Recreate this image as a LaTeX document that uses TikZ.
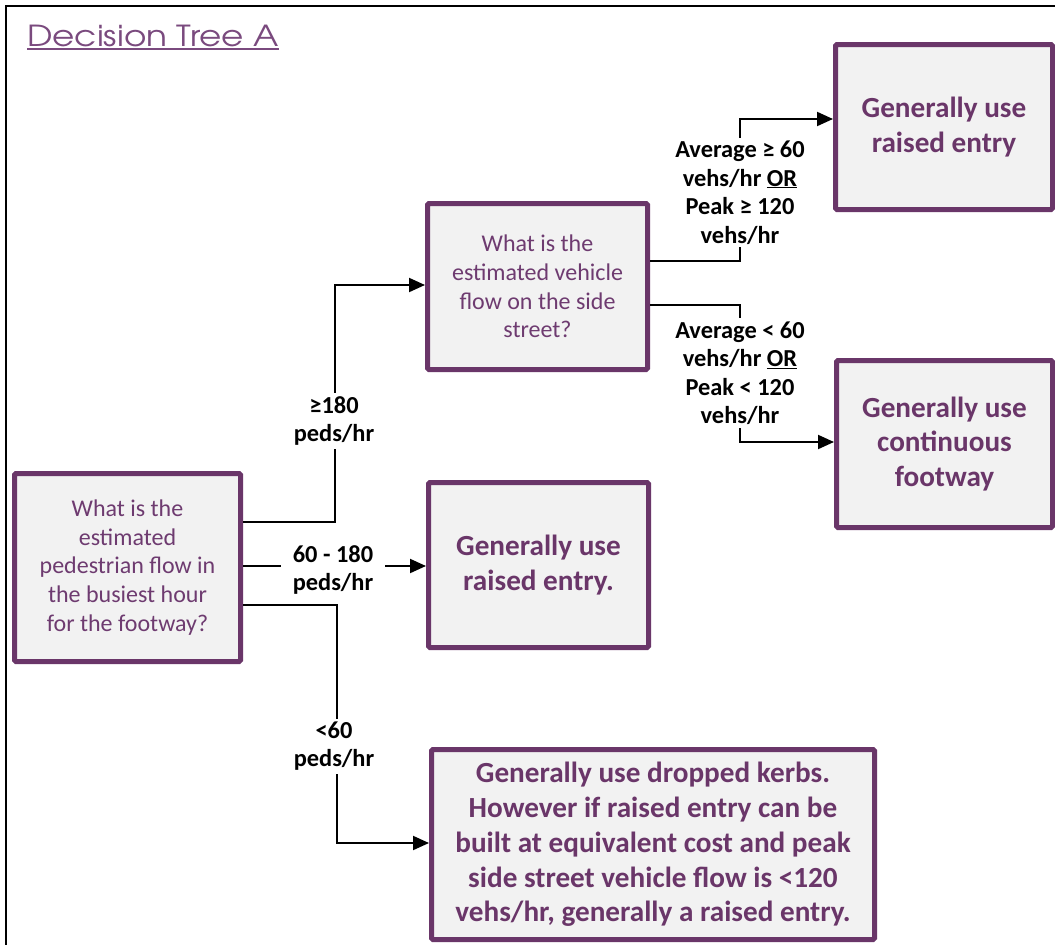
\documentclass[tikz,border=0pt]{standalone}
\usepackage{fontspec}
\setmainfont{Carlito}
\newfontfamily\titlefont[FakeStretch=1.18]{texgyreadventor-regular.otf}
\usetikzlibrary{arrows.meta}
\definecolor{pur}{HTML}{6A3669}
\definecolor{ptext}{HTML}{6E3B70}
\definecolor{titlecol}{HTML}{7A4A7E}
\definecolor{boxfill}{HTML}{F2F2F2}
\begin{document}
\begin{tikzpicture}[x=1pt,y=-1pt,
  box/.style={draw=pur, line width=5pt, fill=boxfill, rounded corners=1.5pt, inner sep=0pt, align=center},
  qtext/.style={text=ptext, font=\fontsize{24}{28.7}\selectfont},
  atext/.style={text=pur, font=\fontsize{29.2}{34.8}\selectfont\bfseries},
  lbl/.style={fill=white, font=\fontsize{24.4}{28.5}\selectfont\bfseries, align=center, inner sep=3pt},
  arr/.style={line width=2pt, -{Triangle[length=16pt,width=14pt]}}
]
\fill[white] (0,0) rectangle (1055,945);
\useasboundingbox (0,0) rectangle (1055,945);
\draw[line width=1.5pt] (1055,6) -- (6,6) -- (6,945);

\node[anchor=base west, inner sep=0pt, text=titlecol, font=\titlefont\fontsize{29}{32}\selectfont] (title) at (27,46) {Decision Tree A};
\draw[titlecol, line width=2.3pt] ([yshift=-3pt]title.base west) -- ([yshift=-3pt]title.base east);

\node[box, qtext, minimum width=226pt, minimum height=188pt] (q1) at (127.5,567.5) {What is the\\estimated\\pedestrian flow in\\the busiest hour\\for the footway?};
\node[box, qtext, minimum width=220pt, minimum height=166pt] (q2) at (537.5,286.5) {What is the\\estimated vehicle\\flow on the side\\street?};
\node[box, atext, minimum width=220pt, minimum height=165pt] (r3) at (538.5,565) {Generally use\\raised entry.};
\node[box, atext, minimum width=217pt, minimum height=165pt] (r1) at (944,127) {Generally use\\raised entry};
\node[box, atext, minimum width=216pt, minimum height=167pt] (r2) at (944.5,444) {Generally use\\continuous\\footway};
\node[box, atext, minimum width=443pt, minimum height=190pt] (r4) at (653,844.5) {Generally use dropped kerbs.\\However if raised entry can be\\built at equivalent cost and peak\\side street vehicle flow is <120\\vehs/hr, generally a raised entry.};

\draw[arr] ([yshift=45.5pt]q1.east) -| ([xshift=-90pt,yshift=1.5pt]q2.west) -- ([yshift=1.5pt]q2.west);
\draw[arr] ([yshift=1.5pt]q1.east) -- ([yshift=1.5pt]q1.east -| r3.west);
\draw[arr] ([yshift=-37.5pt]q1.east) -| ([xshift=-92pt,yshift=1.5pt]r4.west) -- ([yshift=1.5pt]r4.west);
\draw[arr] ([yshift=25.5pt]q2.east) -| ([xshift=-93pt,yshift=8pt]r1.west) -- ([yshift=8pt]r1.west);
\draw[arr] ([yshift=-18.5pt]q2.east) -| ([xshift=-94pt,yshift=2pt]r2.west) -- ([yshift=2pt]r2.west);

\node[lbl] (l1) at (334,421) {≥180\\peds/hr};
\node[lbl, inner xsep=12pt] (l2) at (333,570) {60 - 180\\peds/hr};
\node[lbl] (l3) at (334,746) {<60\\peds/hr};
\node[lbl] (l4) at (740,192.5) {Average ≥ 60\\vehs/hr \underline{OR}\\Peak ≥ 120\\vehs/hr};
\node[lbl] (l5) at (740,373) {Average < 60\\vehs/hr \underline{OR}\\Peak < 120\\vehs/hr};
\end{tikzpicture}
\end{document}
